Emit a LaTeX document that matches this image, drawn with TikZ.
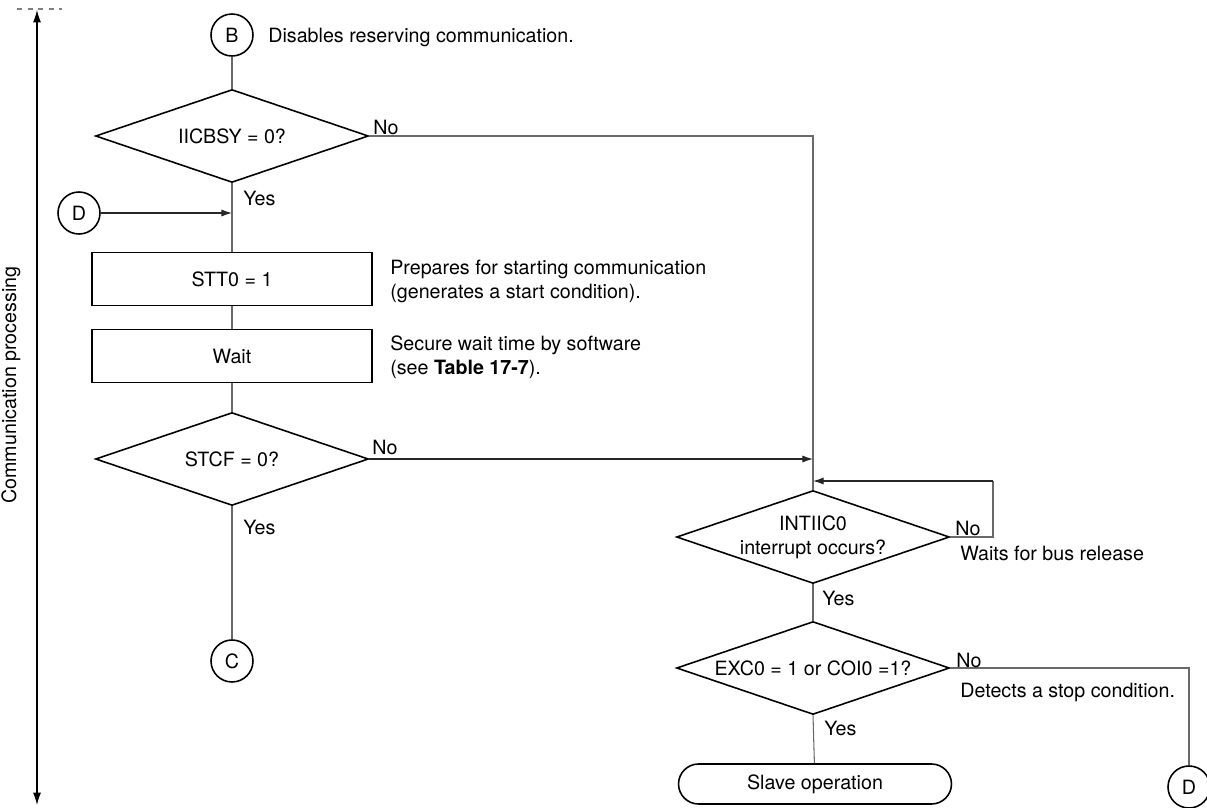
\documentclass[tikz,border=0pt]{standalone}
\usepackage{fontspec}
\setmainfont{TeX Gyre Heros}
\usetikzlibrary{arrows.meta, positioning, shapes.geometric}
\definecolor{flowline}{RGB}{105,105,105}

\tikzset{
    decision/.style={diamond, draw, line width=0.9pt, aspect=2.94, minimum width=5.46cm, minimum height=1.86cm, inner xsep=-0.5cm, inner ysep=-0.2cm, align=center},
    process/.style={rectangle, draw, line width=0.9pt, minimum width=5.6cm, minimum height=1.06cm},
    terminal/.style={rectangle, draw, rounded corners=0.4cm, line width=0.9pt, minimum width=5.46cm, minimum height=0.8cm},
    connector/.style={circle, draw, line width=0.9pt, minimum size=0.84cm, inner sep=0pt},
    flow/.style={draw=flowline, line width=0.6pt},
    flowarrow/.style={draw=black!85, line width=0.6pt, -{Latex[length=6pt, width=4pt]}},
    note/.style={anchor=west, align=left, inner sep=0pt},
    answer/.style={anchor=west, inner sep=0pt}
}

\begin{document}
\begin{tikzpicture}[
    x=0.02cm,
    y=-0.02cm,
    font=\fontsize{11.2pt}{13.6pt}\selectfont
]
\useasboundingbox (0,0) rectangle (1207,808);

% Bereich
\draw[gray, dashed, line width=0.6pt] (17,9) -- (62,9);
\coordinate (rangetop) at (37,10);
\coordinate (rangebot) at (37,805);
\draw[line width=0.6pt, {Latex[length=7pt, width=4.5pt]}-{Latex[length=7pt, width=4.5pt]}] (rangetop) -- (rangebot);
\node[rotate=90] (range) at (11,385) {Communication processing};

% Linker Zweig
\node[connector] (b) at (232,35) {B};
\node[note] (bnote) at (268,37) {Disables reserving communication.};
\node[decision] (iicbsy) at (232,136) {IICBSY = 0?};
\node[connector] (d1) at (79,213) {D};
\coordinate (join) at (232,213);
\node[process] (stt) at (232,279) {STT0 = 1};
\node[note] (sttnote) at (390,281) {Prepares for starting communication\\(generates a start condition).};
\node[process] (wait) at (232,356) {Wait};
\node[note] (waitnote) at (390,357) {Secure wait time by software\\(see \textbf{Table 17-7}).};
\node[decision] (stcf) at (232,459) {STCF = 0?};
\node[connector] (c) at (232,661) {C};

% Rechter Zweig
\node[decision] (intiic) at (813,537) {INTIIC0\\interrupt occurs?};
\node[note] (intnote) at (960,553) {Waits for bus release};
\node[decision] (exc) at (813,668) {EXC0 = 1 or COI0 =1?};
\node[note] (excnote) at (960,692) {Detects a stop condition.};
\node[terminal] (slave) at (815,784) {Slave operation};
\node[connector] (d2) at (1189,787) {D};

% Hilfspunkte
\coordinate (busycorner) at (813,136);
\coordinate (stcfend) at (813,459);
\coordinate (loopright) at (993,537);
\coordinate (looptop) at (993,481);
\coordinate (loopend) at (813,481);
\coordinate (stopcorner) at (1189,668);

% Verbindungen
\draw[flow] (b) -- (iicbsy.north);
\draw[flow] (iicbsy.south) -- (stt.north);
\draw[flow] (stt) -- (wait);
\draw[flow] (wait) -- (stcf.north);
\draw[flow] (stcf.south) -- (c);
\draw[flowarrow] (d1) -- (join);
\draw[flow] (iicbsy.east) -- (busycorner) -- (intiic.north);
\draw[flowarrow] (stcf.east) -- (stcfend);
\draw[flow] (intiic.east) -- (loopright) -- (looptop);
\draw[flowarrow] (looptop) -- (loopend);
\draw[flow] (intiic.south) -- (exc.north);
\draw[flow] (exc.south) -- (slave);
\draw[flow] (exc.east) -- (stopcorner) -- (d2);

% Beschriftungen
\node[answer] (no1) at (373,127) {No};
\node[answer] (yes1) at (243,198) {Yes};
\node[answer] (no2) at (372,447) {No};
\node[answer] (yes2) at (243,527) {Yes};
\node[answer] (no3) at (955,528) {No};
\node[answer] (yes3) at (822,598) {Yes};
\node[answer] (no4) at (956,660) {No};
\node[answer] (yes4) at (824,728) {Yes};

\end{tikzpicture}
\end{document}
